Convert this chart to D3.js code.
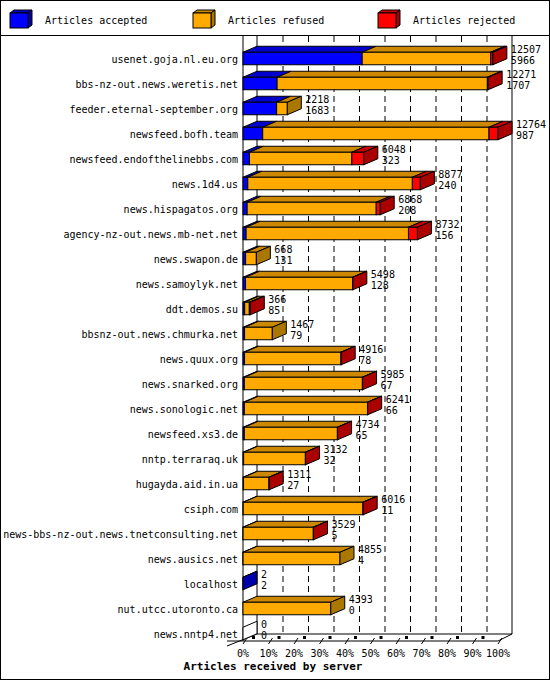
<!DOCTYPE html>
<html><head><meta charset="utf-8">
<script src="https://cdn.jsdelivr.net/npm/d3@7"></script>
<style>body{margin:0;background:#fff}svg{display:block}</style></head>
<body><svg id="c" width="550" height="680"></svg>
<script>
const servers = ["usenet.goja.nl.eu.org","bbs-nz-out.news.weretis.net","feeder.eternal-september.org","newsfeed.bofh.team","newsfeed.endofthelinebbs.com","news.1d4.us","news.hispagatos.org","agency-nz-out.news.mb-net.net","news.swapon.de","news.samoylyk.net","ddt.demos.su","bbsnz-out.news.chmurka.net","news.quux.org","news.snarked.org","news.sonologic.net","newsfeed.xs3.de","nntp.terraraq.uk","hugayda.aid.in.ua","csiph.com","news-bbs-nz-out.news.tnetconsulting.net","news.ausics.net","localhost","nut.utcc.utoronto.ca","news.nntp4.net"];
const offered  = [12507,12271,2218,12764,6048,8877,6868,8732,668,5498,366,1467,4916,5985,6241,4734,3132,1311,6016,3529,4855,2,4393,0];
const accepted = [5966,1707,1683,987,323,240,208,156,131,128,85,79,78,67,66,65,32,27,11,5,4,2,0,0];
const rejected = [110,40,0,450,600,400,200,450,0,10,50,0,10,10,10,10,10,10,10,10,0,0,0,0];
const ticks = ["0%","10%","20%","30%","40%","50%","60%","70%","80%","90%","100%"];
const seriesNames = ["Articles accepted","Articles refused","Articles rejected"];
const colors = ["#0000ff","#ffaa00","#ff0000"];
const darkColors = ["#0000aa","#aa7700","#aa0000"];
const topColors = ["#0000cc","#cc8800","#cc0000"];

const svg = d3.select("#c");
const F = "'DejaVu Sans Mono', monospace";
const FS = 10;
svg.append("rect").attr("x",0.5).attr("y",0.5).attr("width",549).attr("height",679).attr("fill","#fff").attr("stroke","#000");
svg.append("line").attr("x1",0).attr("x2",550).attr("y1",35.5).attr("y2",35.5).attr("stroke","#000");

const lx=[10,193,378];
seriesNames.forEach((n,i)=>{
  const g=svg.append("g").attr("transform",`translate(${lx[i]},10)`);
  g.append("path").attr("d","M0,3 L4,0 L22,0 L18,3 Z").attr("fill",topColors[i]).attr("stroke","#000");
  g.append("path").attr("d","M18,3 L22,0 L22,15 L18,18 Z").attr("fill",darkColors[i]).attr("stroke","#000");
  g.append("rect").attr("x",0).attr("y",3).attr("width",18).attr("height",15).attr("fill",colors[i]).attr("stroke","#000");
  g.append("text").attr("x",35).attr("y",14).attr("font-family",F).attr("font-size",FS).text(n);
});

const x0=243, x1=498, gdx=14, gdy=-7, bdx=14, bdy=-6;
const maxV=d3.max(offered);
const x=d3.scaleLinear().domain([0,maxV]).range([x0,x1]);
const pct=d3.scaleLinear().domain([0,100]).range([x0,x1]);
const y=d3.scaleBand().domain(servers).range([46,646]).paddingInner(0.5).paddingOuter(0.25);
const floorY=641;

const backTop=36, backBot=floorY+gdy;
ticks.forEach((t,i)=>{
  const xb=pct(i*10)+gdx;
  if(i===0||i===10) svg.append("line").attr("x1",xb).attr("x2",xb).attr("y1",backTop).attr("y2",backBot).attr("stroke","#000");
  else svg.append("line").attr("x1",xb+.5).attr("x2",xb+.5).attr("y1",backTop).attr("y2",backBot).attr("stroke","#000").attr("stroke-dasharray","6,4");
});
svg.append("line").attr("x1",x0).attr("x2",x0).attr("y1",backTop).attr("y2",floorY).attr("stroke","#000");
svg.append("line").attr("x1",x0+gdx).attr("x2",pct(100)+gdx).attr("y1",backBot).attr("y2",backBot).attr("stroke","#000");
svg.append("line").attr("x1",227).attr("x2",pct(100)).attr("y1",floorY).attr("y2",floorY).attr("stroke","#000");
svg.append("line").attr("x1",227).attr("x2",x0+gdx).attr("y1",floorY+5).attr("y2",backBot).attr("stroke","#000");
svg.append("line").attr("x1",pct(100)).attr("x2",pct(100)+gdx).attr("y1",floorY).attr("y2",backBot).attr("stroke","#000");
ticks.forEach((t,i)=>{
  const xv=pct(i*10);
  svg.append("line").attr("x1",xv).attr("x2",xv+4).attr("y1",floorY+3).attr("y2",floorY-3).attr("stroke","#000");
  if(i<10) svg.append("rect").attr("x",xv+9).attr("y",floorY-5).attr("width",3).attr("height",3).attr("fill","#000");
  svg.append("text").attr("x",xv).attr("y",floorY+16).attr("text-anchor","middle").attr("font-family",F).attr("font-size",FS).text(t);
});
svg.append("text").attr("x",273).attr("y",670).attr("text-anchor","middle").attr("font-family",F).attr("font-size",11).attr("font-weight","bold").text("Articles received by server");

servers.forEach((s,i)=>{
  const yc=y(s), h=y.bandwidth();
  const refused=offered[i]-accepted[i]-rejected[i];
  const vals=[accepted[i],refused,rejected[i]];
  let cum=0, lastIdx=-1;
  const g=svg.append("g");
  vals.forEach((v,k)=>{
    if(v<=0) return;
    const xa=x(cum), xb=x(cum+v);
    g.append("path").attr("d",`M${xa},${yc} L${xa+bdx},${yc+bdy} L${xb+bdx},${yc+bdy} L${xb},${yc} Z`).attr("fill",topColors[k]).attr("stroke","#000");
    g.append("rect").attr("x",xa).attr("y",yc).attr("width",xb-xa).attr("height",h).attr("fill",colors[k]).attr("stroke","#000");
    cum+=v; lastIdx=k;
  });
  const xe=x(offered[i]);
  g.append("path").attr("d",`M${xe},${yc} L${xe+bdx},${yc+bdy} L${xe+bdx},${yc+bdy+h} L${xe},${yc+h} Z`).attr("fill",lastIdx>=0?darkColors[lastIdx]:"#fff").attr("stroke","#000");
  svg.append("text").attr("x",238).attr("y",yc+h/2+4).attr("text-anchor","end").attr("font-family",F).attr("font-size",FS).text(s);
  const tx=xe+bdx+4;
  svg.append("text").attr("x",tx).attr("y",yc+1).attr("font-family",F).attr("font-size",FS).text(offered[i]);
  svg.append("text").attr("x",tx).attr("y",yc+12).attr("font-family",F).attr("font-size",FS).text(accepted[i]);
});
</script></body></html>
